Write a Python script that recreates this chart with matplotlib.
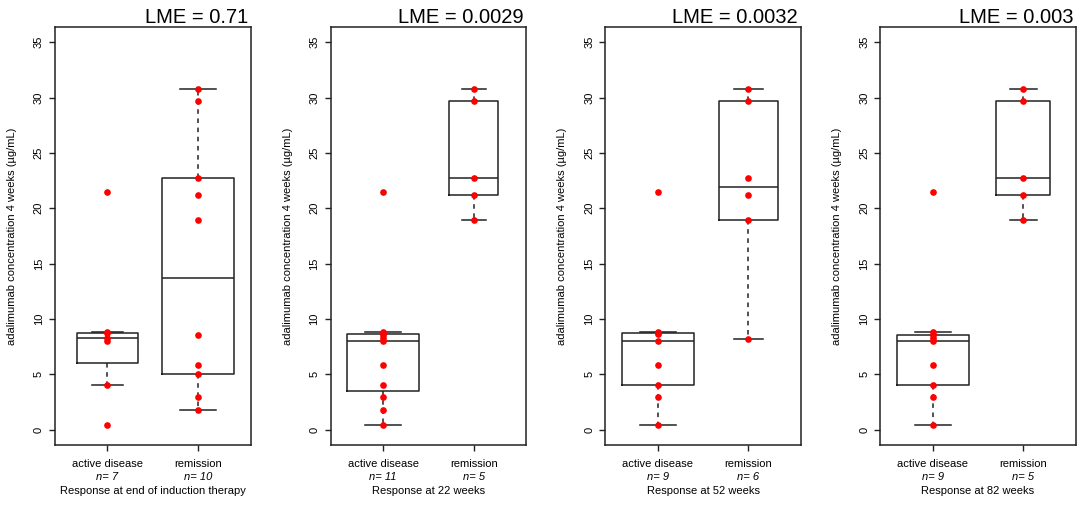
import math
import numpy as np
import matplotlib
matplotlib.use("Agg")
from matplotlib import pyplot as plt
from matplotlib import transforms

plt.rcParams["font.family"] = ["Liberation Sans", "DejaVu Sans"]

# adalimumab concentration at 4 weeks (ug/mL), per response group
categories = ["active disease", "remission"]
lme_values = ["0.71", "0.0029", "0.0032", "0.003"]
x_titles = [
    "Response at end of induction therapy",
    "Response at 22 weeks",
    "Response at 52 weeks",
    "Response at 82 weeks",
]
active_induction = [0.4, 4.0, 8.0, 8.3, 8.7, 8.8, 21.5]
remission_induction = [1.8, 2.9, 5.0, 5.8, 8.5, 18.9, 21.2, 22.7, 29.7, 30.8]
active_w22 = [0.4, 1.8, 2.9, 4.0, 5.8, 8.0, 8.3, 8.5, 8.7, 8.8, 21.5]
remission_w22 = [18.9, 21.2, 22.7, 29.7, 30.8]
active_w52 = [0.4, 2.9, 4.0, 5.8, 8.0, 8.6, 8.7, 8.8, 21.5]
remission_w52 = [8.2, 18.9, 21.2, 22.7, 29.7, 30.8]
active_w82 = [0.4, 2.9, 4.0, 5.8, 8.0, 8.3, 8.5, 8.8, 21.5]
remission_w82 = [18.9, 21.2, 22.7, 29.7, 30.8]

panels = [
    (active_induction, remission_induction),
    (active_w22, remission_w22),
    (active_w52, remission_w52),
    (active_w82, remission_w82),
]

y_label = "adalimumab concentration 4 weeks (\u00b5g/mL)"


def fivenum_stats(values):
    # Tukey hinges like R's boxplot
    x = sorted(values)
    n = len(x)
    n4 = math.floor((n + 3) / 2) / 2
    d = [1, n4, (n + 1) / 2, n + 1 - n4, n]
    q = [0.5 * (x[math.floor(v) - 1] + x[math.ceil(v) - 1]) for v in d]
    iqr = q[3] - q[1]
    lo = min(v for v in x if v >= q[1] - 1.5 * iqr)
    hi = max(v for v in x if v <= q[3] + 1.5 * iqr)
    return dict(med=q[2], q1=q[1], q3=q[3], whislo=lo, whishi=hi, fliers=[])


W, H = 1084, 507
fig = plt.figure(figsize=(W / 100, H / 100), dpi=100, facecolor="white")

lefts = [55, 330.7, 605.3, 880.3]
ax_w, ax_top, ax_bot = 195.5, 26.7, 445
frame_col = "#222222"

for k, (groups, lme, xt) in enumerate(zip(panels, lme_values, x_titles)):
    ax = fig.add_axes([lefts[k] / W, (H - ax_bot) / H, ax_w / W, (ax_bot - ax_top) / H])
    ns = [len(g) for g in groups]
    widths = [0.8 * math.sqrt(n) / math.sqrt(max(ns)) for n in ns]
    stats = [fivenum_stats(g) for g in groups]
    line = dict(color=frame_col, linewidth=1.1)
    ax.bxp(
        stats,
        positions=[1, 2],
        widths=widths,
        capwidths=[w * 0.5 for w in widths],
        showfliers=False,
        boxprops=line,
        medianprops=line,
        capprops=line,
        whiskerprops=dict(color=frame_col, linewidth=1.1, linestyle=(0, (3, 3))),
    )
    for i, g in enumerate(groups):
        ax.plot([i + 1] * len(g), g, "o", color="red", ms=4.8, mec="none", zorder=5)

    ax.set_xlim(0.42, 2.58)
    ax.set_ylim(-1.4, 36.4)
    ax.set_yticks(range(0, 36, 5))
    ax.set_yticklabels([str(v) for v in range(0, 36, 5)], rotation=90, va="center")
    ax.set_xticks([1, 2])
    ax.set_xticklabels(categories)
    ax.tick_params(axis="both", length=4, width=1, color=frame_col, labelsize=8)
    ax.tick_params(axis="y", pad=4)
    ax.tick_params(axis="x", pad=6)
    for s in ax.spines.values():
        s.set_color(frame_col)
        s.set_linewidth(1.1)

    trans = transforms.blended_transform_factory(ax.transData, ax.transAxes)
    for i, n in enumerate(ns):
        ax.text(i + 1, -0.0765, f"n= {n}", style="italic", fontsize=8,
                ha="center", va="center", transform=trans)
    ax.text(0.5, -0.109, xt, fontsize=8, ha="center", va="center", transform=ax.transAxes)
    ax.text(-0.22, 0.5, y_label, fontsize=8, rotation=90, ha="center", va="center",
            transform=ax.transAxes)
    ax.text(0.986, 1.0 + 4 / (ax_bot - ax_top), f"LME = {lme}", fontsize=14.5,
            ha="right", va="baseline", transform=ax.transAxes)

fig.savefig("out.png", dpi=100)
